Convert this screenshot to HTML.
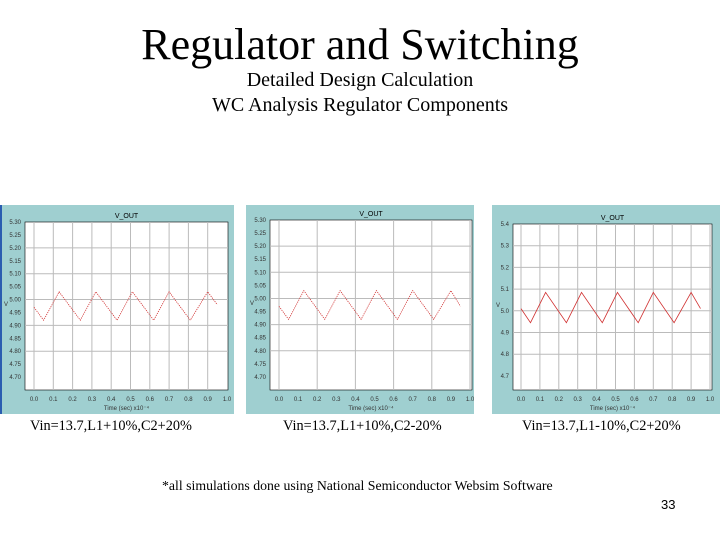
<!DOCTYPE html>
<html><head><meta charset="utf-8">
<style>
body{margin:0;width:720px;height:540px;background:#fff;overflow:hidden;position:relative;font-family:"Liberation Serif",serif}
.t{position:absolute;left:0;width:720px;text-align:center;color:#000}
.cap{position:absolute;font-size:14.3px;font-family:"Liberation Serif",serif}
</style></head><body>
<div class="t" style="top:19px;width:720px;font-size:44px;">Regulator and Switching</div>
<div class="t" style="top:69px;font-size:20px;">Detailed Design Calculation</div>
<div class="t" style="top:94px;font-size:20px;">WC Analysis Regulator Components</div>
<svg id="sv" width="720" height="540" style="position:absolute;left:0;top:0"></svg>
<div class="cap" style="left:30px;top:418px">Vin=13.7,L1+10%,C2+20%</div>
<div class="cap" style="left:283px;top:418px">Vin=13.7,L1+10%,C2-20%</div>
<div class="cap" style="left:522px;top:418px">Vin=13.7,L1-10%,C2+20%</div>
<div class="cap" style="left:162px;top:478px;font-size:13.8px">*all simulations done using National Semiconductor Websim Software</div>
<div class="cap" style="left:661px;top:497px;font-family:'Liberation Sans',sans-serif;font-size:13px">33</div>
<script>
const times=[0.0,0.05,0.13,0.24,0.32,0.43,0.51,0.62,0.70,0.81,0.90,0.95];
const vals1=[4.99,4.94,5.05,4.94,5.05,4.94,5.05,4.94,5.05,4.94,5.05,5.00];
const vals2=[4.99,4.94,5.05,4.94,5.05,4.94,5.05,4.94,5.05,4.94,5.05,4.99];
const vals3=[5.04,4.975,5.115,4.975,5.115,4.975,5.115,4.975,5.115,4.975,5.115,5.04];
const xTicks=["0.0","0.1","0.2","0.3","0.4","0.5","0.6","0.7","0.8","0.9","1.0"];
const yTicks12=["5.30","5.25","5.20","5.15","5.10","5.05","5.00","4.95","4.90","4.85","4.80","4.75","4.70"];
const yTicks3=["5.4","5.3","5.2","5.1","5.0","4.9","4.8","4.7"];
const NS="http://www.w3.org/2000/svg";
const sv=document.getElementById('sv');
function mk(t,a,p){const e=document.createElementNS(NS,t);for(const k in a)e.setAttribute(k,a[k]);(p||sv).appendChild(e);return e;}
function panel(P){
  const g=mk('g',{});
  
  
  mk('rect',{x:P.bx,y:205,width:P.bw,height:209,fill:'#9fcfd0'},g);
  const x0=P.x0,x1=P.x1,y0=P.y0,y1=P.y1;
  mk('rect',{x:x0,y:y0,width:x1-x0,height:y1-y0,fill:'#fff',stroke:'#000','stroke-width':0.6},g);
  const xs=t=>P.xa+(P.xb-P.xa)*t;
  const ys=v=>y1-(y1-y0)*(v-P.ymin)/(P.ymax-P.ymin);
  xTicks.forEach((l,i)=>{const x=xs(i/10);
    if(i%P.xgrid==0&&x>x0+1&&x<x1-1)mk('line',{x1:x,x2:x,y1:y0,y2:y1,stroke:'#bbb','stroke-width':1},g);
    const t=mk('text',{x:x,y:y1+11,'font-size':6,'text-anchor':'middle',fill:'#333','font-family':'Liberation Sans'},g);t.textContent=l;});
  P.yt.forEach((l,i)=>{const v=P.ymax-i*P.ystep;const y=ys(v);
    if(i%P.ygrid==0&&i>0&&i<P.yt.length-1)mk('line',{x1:x0,x2:x1,y1:y,y2:y,stroke:'#bbb','stroke-width':1},g);
    const t=mk('text',{x:x0-4,y:y+2,'font-size':6,'text-anchor':'end',fill:'#333','font-family':'Liberation Sans'},g);t.textContent=l;});
  const tt=mk('text',{x:(x0+x1)/2,y:y0-4,'font-size':7,'text-anchor':'middle','font-family':'Liberation Sans'},g);tt.textContent='V_OUT';
  const xl=mk('text',{x:(x0+x1)/2,y:y1+20,'font-size':6,'text-anchor':'middle',fill:'#333','font-family':'Liberation Sans'},g);xl.textContent='Time (sec)  x10⁻⁴';
  const yl=mk('text',{x:P.bx+4,y:(y0+y1)/2,'font-size':6,fill:'#333','font-family':'Liberation Sans'},g);yl.textContent='V';
  const d=times.map((t,i)=>(i?'L':'M')+xs(t).toFixed(1)+','+ys(P.vals[i]).toFixed(1)).join('');
  const p=mk('path',{d:d,fill:'none',stroke:'#d03030','stroke-width':0.8,'stroke-dasharray':P.dash},g);
  
  
}
panel({name:'chart-1',bx:0,bw:234,x0:25,x1:228,xa:34,xb:227,y0:222,y1:390,ymin:4.67,ymax:5.32,ystep:0.05,yt:yTicks12,vals:vals1,xgrid:1,ygrid:2,dash:'1.2,1'});
mk('rect',{x:0,y:205,width:2,height:209,fill:'#2a5db0'});
panel({name:'chart-2',bx:246,bw:228,x0:270,x1:472,xa:279,xb:470,y0:220,y1:390,ymin:4.67,ymax:5.32,ystep:0.05,yt:yTicks12,vals:vals2,xgrid:2,ygrid:2,dash:'1.2,1'});
panel({name:'chart-3',bx:492,bw:228,x0:513,x1:712,xa:521,xb:710,y0:224,y1:390,ymin:4.665,ymax:5.43,ystep:0.1,yt:yTicks3,vals:vals3,xgrid:1,ygrid:1,dash:'none'});
</script>
</body></html>
